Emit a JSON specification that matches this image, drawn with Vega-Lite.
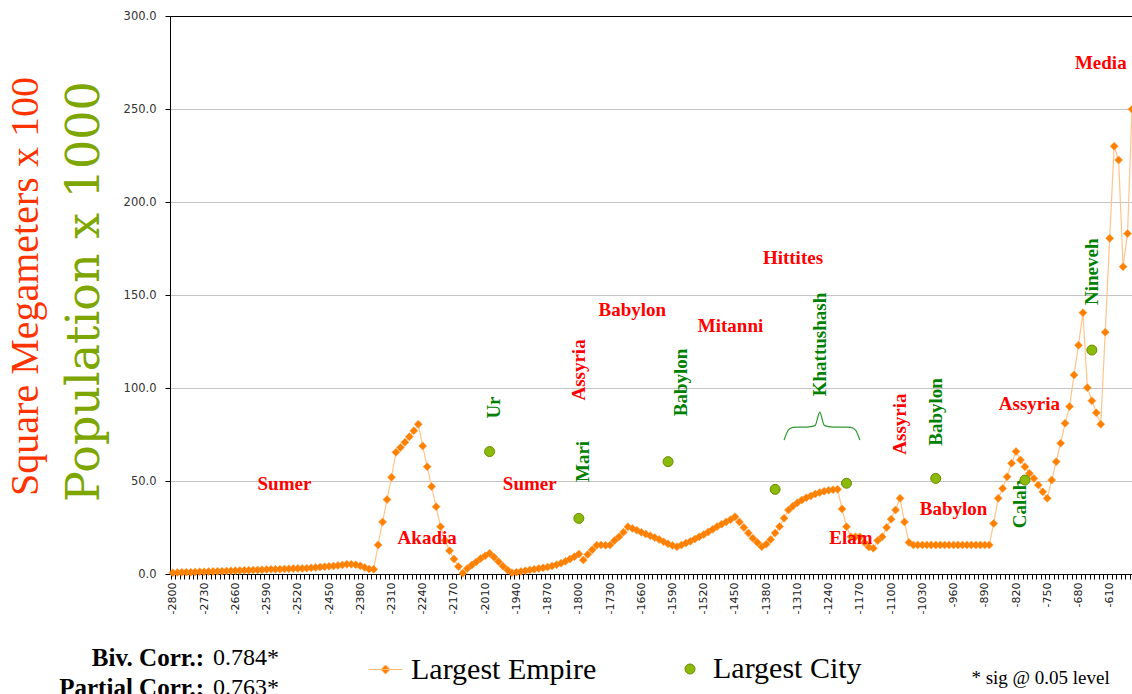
{
  "$schema": "https://vega.github.io/schema/vega-lite/v6.json",
  "width": 962,
  "height": 558,
  "autosize": {"type": "none"},
  "padding": {"left": 170, "top": 16, "right": 0, "bottom": 120},
  "background": "white",
  "config": {"view": {"stroke": null}},
  "datasets": {
    "empire": [
      {"year":-2800,"v":0.7},{"year":-2790,"v":0.8},{"year":-2780,"v":0.9},{"year":-2770,"v":1.0},{"year":-2760,"v":1.0},
      {"year":-2750,"v":1.1},{"year":-2740,"v":1.2},{"year":-2730,"v":1.2},{"year":-2720,"v":1.3},{"year":-2710,"v":1.4},
      {"year":-2700,"v":1.5},{"year":-2690,"v":1.5},{"year":-2680,"v":1.6},{"year":-2670,"v":1.7},{"year":-2660,"v":1.8},
      {"year":-2650,"v":1.9},{"year":-2640,"v":2.0},{"year":-2630,"v":2.0},{"year":-2620,"v":2.1},{"year":-2610,"v":2.2},
      {"year":-2600,"v":2.3},{"year":-2590,"v":2.4},{"year":-2580,"v":2.5},{"year":-2570,"v":2.5},{"year":-2560,"v":2.6},
      {"year":-2550,"v":2.7},{"year":-2540,"v":2.8},{"year":-2530,"v":2.9},{"year":-2520,"v":3.0},{"year":-2510,"v":3.0},
      {"year":-2500,"v":3.1},{"year":-2490,"v":3.3},{"year":-2480,"v":3.5},{"year":-2470,"v":3.7},{"year":-2460,"v":3.9},
      {"year":-2450,"v":4.1},{"year":-2440,"v":4.3},{"year":-2430,"v":4.6},{"year":-2420,"v":4.9},{"year":-2410,"v":5.2},
      {"year":-2400,"v":5.2},{"year":-2390,"v":5.0},{"year":-2380,"v":4.4},{"year":-2370,"v":3.5},{"year":-2360,"v":2.7},
      {"year":-2350,"v":2.5},{"year":-2340,"v":15.6},{"year":-2330,"v":28},{"year":-2320,"v":40},{"year":-2310,"v":52},
      {"year":-2300,"v":65.4},{"year":-2290,"v":68},{"year":-2280,"v":70.8},{"year":-2270,"v":73.8},{"year":-2260,"v":77},
      {"year":-2250,"v":80.5},{"year":-2240,"v":68.8},{"year":-2230,"v":57.7},{"year":-2220,"v":47},{"year":-2210,"v":36.2},
      {"year":-2200,"v":25.4},{"year":-2190,"v":18},{"year":-2180,"v":12.5},{"year":-2170,"v":8},{"year":-2160,"v":4},
      {"year":-2150,"v":0.4},{"year":-2140,"v":3},{"year":-2130,"v":4.8},{"year":-2120,"v":6.5},{"year":-2110,"v":8.3},
      {"year":-2010,"v":9.8},{"year":-2000,"v":11.1},{"year":-1990,"v":9},{"year":-1980,"v":6.6},{"year":-1970,"v":4.2},
      {"year":-1960,"v":2.2},{"year":-1950,"v":0.7},{"year":-1940,"v":1.0},{"year":-1930,"v":1.4},{"year":-1920,"v":1.8},
      {"year":-1910,"v":2.2},{"year":-1900,"v":2.5},{"year":-1890,"v":2.9},{"year":-1880,"v":3.3},{"year":-1870,"v":3.7},
      {"year":-1860,"v":4.3},{"year":-1850,"v":5.0},{"year":-1840,"v":5.8},{"year":-1830,"v":6.8},{"year":-1820,"v":8.0},
      {"year":-1810,"v":9.3},{"year":-1800,"v":10.7},{"year":-1790,"v":7.5},{"year":-1780,"v":10.5},{"year":-1770,"v":13},
      {"year":-1760,"v":15.5},{"year":-1750,"v":15.6},{"year":-1740,"v":15.4},{"year":-1730,"v":15.6},{"year":-1720,"v":18},
      {"year":-1710,"v":20},{"year":-1700,"v":22.5},{"year":-1690,"v":25.4},{"year":-1680,"v":24.5},{"year":-1670,"v":23.5},
      {"year":-1660,"v":22.4},{"year":-1650,"v":21.5},{"year":-1640,"v":20.6},{"year":-1630,"v":19.6},{"year":-1620,"v":18.6},
      {"year":-1610,"v":17.3},{"year":-1600,"v":16.2},{"year":-1590,"v":15.3},{"year":-1580,"v":14.7},{"year":-1570,"v":15.6},
      {"year":-1560,"v":16.6},{"year":-1550,"v":17.6},{"year":-1540,"v":18.8},{"year":-1530,"v":20},{"year":-1520,"v":21.2},
      {"year":-1510,"v":22.6},{"year":-1500,"v":24},{"year":-1490,"v":25.5},{"year":-1480,"v":26.8},{"year":-1470,"v":28},
      {"year":-1460,"v":29.2},{"year":-1450,"v":30.8},{"year":-1440,"v":28},{"year":-1430,"v":25},{"year":-1420,"v":22},
      {"year":-1410,"v":19.2},{"year":-1400,"v":17},{"year":-1390,"v":14.7},{"year":-1380,"v":16},{"year":-1370,"v":18.5},
      {"year":-1360,"v":22},{"year":-1350,"v":25.5},{"year":-1340,"v":30},{"year":-1330,"v":34.4},{"year":-1320,"v":36.5},
      {"year":-1310,"v":38.3},{"year":-1300,"v":39.8},{"year":-1290,"v":41},{"year":-1280,"v":42},{"year":-1270,"v":43},
      {"year":-1260,"v":43.8},{"year":-1250,"v":44.5},{"year":-1240,"v":45},{"year":-1230,"v":45.3},{"year":-1220,"v":45.5},
      {"year":-1210,"v":35},{"year":-1200,"v":25.4},{"year":-1190,"v":20},{"year":-1180,"v":20},{"year":-1170,"v":20},
      {"year":-1160,"v":17},{"year":-1150,"v":14.5},{"year":-1140,"v":13.8},{"year":-1130,"v":18},{"year":-1120,"v":20},
      {"year":-1110,"v":25},{"year":-1100,"v":29.5},{"year":-1090,"v":34.4},{"year":-1080,"v":40.7},{"year":-1070,"v":28},
      {"year":-1060,"v":17},{"year":-1050,"v":15.6},{"year":-1040,"v":15.6},{"year":-1030,"v":15.6},{"year":-1020,"v":15.6},
      {"year":-1010,"v":15.6},{"year":-1000,"v":15.6},{"year":-990,"v":15.6},{"year":-980,"v":15.6},{"year":-970,"v":15.6},
      {"year":-960,"v":15.6},{"year":-950,"v":15.6},{"year":-940,"v":15.6},{"year":-930,"v":15.6},{"year":-920,"v":15.6},
      {"year":-910,"v":15.6},{"year":-900,"v":15.6},{"year":-890,"v":15.6},{"year":-880,"v":15.6},{"year":-870,"v":27.2},
      {"year":-860,"v":40.7},{"year":-850,"v":46},{"year":-840,"v":52.3},{"year":-830,"v":59.5},{"year":-820,"v":65.8},
      {"year":-810,"v":61.3},{"year":-800,"v":57.7},{"year":-790,"v":54.1},{"year":-780,"v":51.4},{"year":-770,"v":47.8},
      {"year":-760,"v":44.2},{"year":-750,"v":40.7},{"year":-740,"v":50.5},{"year":-730,"v":60.4},{"year":-720,"v":70.3},
      {"year":-710,"v":81},{"year":-700,"v":90},{"year":-690,"v":107},{"year":-680,"v":123},{"year":-670,"v":140.5},
      {"year":-660,"v":100.2},{"year":-650,"v":93.2},{"year":-640,"v":86.7},{"year":-630,"v":80.5},{"year":-620,"v":130},
      {"year":-610,"v":180.5},{"year":-600,"v":230},{"year":-590,"v":222.6},{"year":-580,"v":165.2},{"year":-570,"v":183},
      {"year":-560,"v":249.8}
    ],
    "cities": [
      {"year":-2000,"v":65.8},{"year":-1800,"v":29.9},{"year":-1600,"v":60.4},{"year":-1360,"v":45.5},
      {"year":-1200,"v":48.8},{"year":-1000,"v":51.4},{"year":-800,"v":50.5},{"year":-650,"v":120.4}
    ],
    "redH": [
      {"label":"Sumer","year":-2550,"v":48.4},{"label":"Akadia","year":-2230,"v":19.4},
      {"label":"Sumer","year":-1910,"v":48.4},{"label":"Babylon","year":-1680,"v":142.2},
      {"label":"Mitanni","year":-1460,"v":133.3},{"label":"Hittites","year":-1320,"v":169.9},
      {"label":"Elam","year":-1190,"v":19.4},{"label":"Babylon","year":-960,"v":34.9},
      {"label":"Assyria","year":-790,"v":91.4},{"label":"Media","year":-630,"v":274.7}
    ],
    "redV": [
      {"label":"Assyria","year":-1800,"v":109.7},{"label":"Assyria","year":-1080,"v":80.6}
    ],
    "greenV": [
      {"label":"Ur","year":-1990,"v":89.5},{"label":"Mari","year":-1790,"v":60.5},
      {"label":"Babylon","year":-1570,"v":103},{"label":"Khattushash","year":-1260,"v":123.4},
      {"label":"Babylon","year":-1000,"v":87.1},{"label":"Calah","year":-810,"v":37.6},
      {"label":"Nineveh","year":-650,"v":162.5}
    ],
    "brace": [
      {"year":-1340,"v":72},{"year":-1330,"v":77.5},{"year":-1320,"v":78.8},{"year":-1310,"v":79},
      {"year":-1300,"v":79},{"year":-1290,"v":79},{"year":-1280,"v":79.2},{"year":-1270,"v":80},
      {"year":-1260,"v":87},{"year":-1250,"v":80},{"year":-1240,"v":79.2},{"year":-1230,"v":79},
      {"year":-1220,"v":79},{"year":-1210,"v":79},{"year":-1200,"v":79},{"year":-1190,"v":78.8},
      {"year":-1180,"v":77.5},{"year":-1170,"v":72}
    ],
    "statsBold": [
      {"label":"Biv. Corr.:","year":-2730,"v":-45.2},{"label":"Partial Corr.:","year":-2730,"v":-61.5}
    ],
    "statsVal": [
      {"label":"0.784*","year":-2710,"v":-45.2},{"label":"0.763*","year":-2710,"v":-61.5}
    ],
    "note": [
      {"label":"* sig @ 0.05 level","year":-920,"v":-55.9}
    ]
  },
  "layer": [
    {
      "layer": [
        {
          "data": {"name": "empire"},
          "mark": {"type": "line", "color": "#FFC48A", "strokeWidth": 1.2},
          "encoding": {
            "x": {
              "field": "year", "type": "ordinal", "sort": "ascending",
              "scale": {"type": "point", "padding": 0.325, "align": 1},
              "axis": {
                "title": null, "labelAngle": -90, "labelFont": "DejaVu Sans", "labelFontSize": 11,
                "labelColor": "#222", "labelOverlap": false, "labelBound": false, "labelFlush": false,
                "labelExpr": "indexof([-2800,-2730,-2660,-2590,-2520,-2450,-2380,-2310,-2240,-2170,-2010,-1940,-1870,-1800,-1730,-1660,-1590,-1520,-1450,-1380,-1310,-1240,-1170,-1100,-1030,-960,-890,-820,-750,-680,-610], datum.value) >= 0 ? '' + datum.value : ''",
                "domainColor": "#000", "tickColor": "#000", "tickSize": 5, "labelPadding": 3,
                "grid": false, "tickOffset": -2.23, "labelOffset": 2.23
              }
            },
            "y": {
              "field": "v", "type": "quantitative",
              "scale": {"domain": [0, 300], "nice": false, "zero": true},
              "axis": {
                "title": "Square Megameters x 100", "titleFont": "Liberation Serif", "titleFontSize": 40,
                "titleFontWeight": "normal", "titleColor": "#FF3300", "titlePadding": 78, "titleY": 270,
                "values": [0, 50, 100, 150, 200, 250, 300], "format": ".1f",
                "labelFont": "DejaVu Sans", "labelFontSize": 11.5, "labelColor": "#333", "labelPadding": 9,
                "tickSize": 5, "tickColor": "#000", "domainColor": "#000",
                "gridColor": {"condition": {"test": "datum.value === 300", "value": "#000"}, "value": "#C4C4C4"},
                "gridWidth": 1
              }
            }
          }
        },
        {
          "data": {"name": "empire"},
          "mark": {"type": "point", "shape": "diamond", "filled": true, "size": 64, "opacity": 1, "stroke": "#FF9A3C", "strokeWidth": 0.6},
          "encoding": {
            "x": {"field": "year", "type": "ordinal", "sort": "ascending"},
            "y": {"field": "v", "type": "quantitative"},
            "color": {
              "datum": "Largest Empire",
              "scale": {"domain": ["Largest Empire"], "range": ["#FF7F00"]},
              "legend": {
                "orient": "none", "legendX": 198, "legendY": 636, "title": null,
                "labelFont": "Liberation Serif", "labelFontSize": 30, "labelColor": "#000", "labelLimit": 400,
                "symbolType": "M-1,0L1,0M0,-0.27L0.27,0L0,0.27L-0.27,0Z", "symbolSize": 1156,
                "symbolStrokeColor": "#FFB872", "symbolStrokeWidth": 1, "symbolOpacity": 1,
                "labelOffset": 8
              }
            }
          }
        },
        {
          "data": {"name": "brace"},
          "mark": {"type": "line", "color": "#2E9A2E", "strokeWidth": 1.2, "interpolate": "monotone"},
          "encoding": {
            "x": {"field": "year", "type": "ordinal", "sort": "ascending"},
            "y": {"field": "v", "type": "quantitative"}
          }
        },
        {
          "data": {"name": "redH"},
          "mark": {"type": "text", "font": "Liberation Serif", "fontWeight": "bold", "fontSize": 19, "color": "#FF0000", "align": "center", "baseline": "middle"},
          "encoding": {
            "x": {"field": "year", "type": "ordinal", "sort": "ascending"},
            "y": {"field": "v", "type": "quantitative"},
            "text": {"field": "label"}
          }
        },
        {
          "data": {"name": "redV"},
          "mark": {"type": "text", "font": "Liberation Serif", "fontWeight": "bold", "fontSize": 19, "color": "#FF0000", "align": "center", "baseline": "middle", "angle": 270},
          "encoding": {
            "x": {"field": "year", "type": "ordinal", "sort": "ascending"},
            "y": {"field": "v", "type": "quantitative"},
            "text": {"field": "label"}
          }
        },
        {
          "data": {"name": "greenV"},
          "mark": {"type": "text", "font": "Liberation Serif", "fontWeight": "bold", "fontSize": 19, "color": "#008000", "align": "center", "baseline": "middle", "angle": 270},
          "encoding": {
            "x": {"field": "year", "type": "ordinal", "sort": "ascending"},
            "y": {"field": "v", "type": "quantitative"},
            "text": {"field": "label"}
          }
        },
        {
          "data": {"name": "statsBold"},
          "mark": {"type": "text", "font": "Liberation Serif", "fontWeight": "bold", "fontSize": 25, "color": "#000", "align": "right", "baseline": "middle"},
          "encoding": {
            "x": {"field": "year", "type": "ordinal", "sort": "ascending"},
            "y": {"field": "v", "type": "quantitative"},
            "text": {"field": "label"}
          }
        },
        {
          "data": {"name": "statsVal"},
          "mark": {"type": "text", "font": "Liberation Serif", "fontSize": 24, "color": "#000", "align": "left", "baseline": "middle"},
          "encoding": {
            "x": {"field": "year", "type": "ordinal", "sort": "ascending"},
            "y": {"field": "v", "type": "quantitative"},
            "text": {"field": "label"}
          }
        },
        {
          "data": {"name": "note"},
          "mark": {"type": "text", "font": "Liberation Serif", "fontSize": 19, "color": "#000", "align": "left", "baseline": "middle"},
          "encoding": {
            "x": {"field": "year", "type": "ordinal", "sort": "ascending"},
            "y": {"field": "v", "type": "quantitative"},
            "text": {"field": "label"}
          }
        }
      ]
    },
    {
      "layer": [
        {
          "data": {"name": "cities"},
          "mark": {"type": "point", "shape": "circle", "filled": true, "size": 100, "opacity": 1, "stroke": "#6A8A00", "strokeWidth": 1},
          "encoding": {
            "x": {"field": "year", "type": "ordinal", "sort": "ascending"},
            "y": {
              "field": "v", "type": "quantitative",
              "scale": {"domain": [0, 300], "nice": false, "zero": true},
              "axis": {
                "orient": "left", "title": "Population x 1000", "titleFont": "DejaVu Serif", "titleFontSize": 46,
                "titleFontWeight": "normal", "titleColor": "#7DA600", "titlePadding": 62, "titleY": 275,
                "labels": false, "ticks": false, "domain": false, "grid": false
              }
            },
            "fill": {
              "datum": "Largest City",
              "scale": {"domain": ["Largest City"], "range": ["#8CBA0B"]},
              "legend": {
                "orient": "none", "legendX": 505, "legendY": 638, "title": null,
                "labelFont": "Liberation Serif", "labelFontSize": 30, "labelColor": "#000", "labelLimit": 400,
                "symbolType": "circle", "symbolSize": 100, "symbolStrokeColor": "#6A8A00",
                "symbolStrokeWidth": 1, "symbolOpacity": 1, "labelOffset": 8
              }
            }
          }
        }
      ]
    }
  ],
  "resolve": {"scale": {"y": "independent"}}
}
